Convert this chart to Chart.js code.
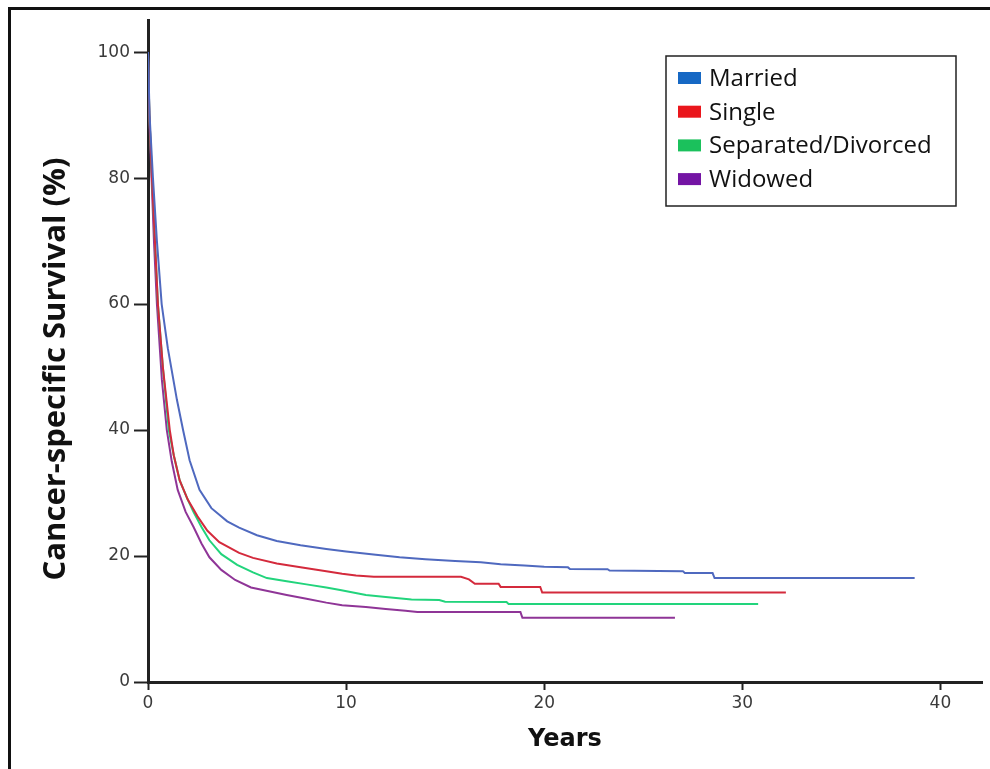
<!DOCTYPE html>
<html>
<head>
<meta charset="utf-8">
<script src="https://cdn.jsdelivr.net/npm/chart.js@4.4.1/dist/chart.umd.min.js"></script>
<style>
  body { margin: 0; background: #fff; overflow: hidden; }
  #frame {
    position: absolute; left: 8px; top: 7px; width: 1010px; height: 800px;
    border: 3px solid #111; pointer-events: none;
  }
  #survivalChart { position: absolute; left: 0; top: 0; }
</style>
</head>
<body>
<div id="frame"></div>
<canvas id="survivalChart" width="990" height="769"></canvas>
<script>
// DATA

const groups = ['Married', 'Single', 'Separated/Divorced', 'Widowed'];

const marriedYears    = [0, 0.08, 0.25, 0.45, 0.69, 1.0, 1.46, 1.77, 2.1, 2.6, 3.2, 4.0, 4.6, 5.5, 6.5, 7.7, 9.0, 10.0, 11.5, 12.7, 14.0, 15.5, 16.8, 17.8, 19.0, 20.0, 21.2, 21.3, 23.2, 23.3, 27.0, 27.1, 28.5, 28.6, 38.7];
const marriedSurvival = [100, 90, 80, 70, 60, 53, 44.8, 40, 35.2, 30.5, 27.6, 25.5, 24.5, 23.3, 22.4, 21.7, 21.1, 20.7, 20.2, 19.8, 19.5, 19.2, 19.0, 18.7, 18.5, 18.3, 18.2, 17.95, 17.9, 17.7, 17.6, 17.3, 17.3, 16.5, 16.5];

const singleYears    = [0, 0.07, 0.2, 0.35, 0.5, 0.75, 1.1, 1.3, 1.6, 2.0, 2.5, 3.0, 3.6, 4.6, 5.3, 6.5, 7.7, 9.0, 9.8, 10.5, 11.4, 15.8, 16.2, 16.5, 17.7, 17.8, 19.8, 19.9, 32.2];
const singleSurvival = [100, 90, 80, 70, 60, 50, 40, 36, 32, 29, 26.3, 24, 22.2, 20.5, 19.7, 18.8, 18.2, 17.6, 17.2, 16.9, 16.7, 16.7, 16.3, 15.6, 15.6, 15.1, 15.1, 14.2, 14.2];

const separatedYears    = [0, 0.07, 0.2, 0.35, 0.5, 0.75, 1.05, 1.3, 1.6, 2.0, 2.3, 2.7, 3.1, 3.7, 4.5, 5.3, 6.0, 7.0, 8.0, 9.0, 9.7, 11.0, 12.0, 13.3, 14.7, 15.0, 18.1, 18.2, 30.8];
const separatedSurvival = [100, 90, 80, 70, 60, 50, 40, 36, 32, 29, 27, 24.6, 22.5, 20.3, 18.6, 17.4, 16.5, 16.0, 15.5, 15.0, 14.6, 13.8, 13.5, 13.1, 13.0, 12.75, 12.7, 12.4, 12.4];

const widowedYears    = [0, 0.06, 0.18, 0.3, 0.45, 0.7, 0.95, 1.2, 1.5, 1.9, 2.3, 2.7, 3.1, 3.7, 4.4, 5.2, 5.8, 7.0, 8.0, 9.0, 9.8, 11.0, 12.0, 13.0, 13.6, 18.8, 18.9, 26.6];
const widowedSurvival = [100, 90, 80, 70, 60, 48, 40, 35, 30.5, 27, 24.6, 22, 19.8, 17.8, 16.2, 15.0, 14.6, 13.8, 13.2, 12.6, 12.2, 11.9, 11.6, 11.3, 11.1, 11.1, 10.2, 10.2];

const xTicks = [0, 10, 20, 30, 40];
const yTicks = [0, 20, 40, 60, 80, 100];

const yTitle = 'Cancer-specific Survival (%)';

// STYLE

const lineColors   = ['#4f69bf', '#d42a3c', '#22d47c', '#8f3597'];
const legendColors = ['#1668c4', '#ea161c', '#1bc15c', '#7414a4'];

const toPoints = (years, surv) => years.map((t, i) => ({ x: t, y: surv[i] }));

const series = [
  toPoints(marriedYears, marriedSurvival),
  toPoints(singleYears, singleSurvival),
  toPoints(separatedYears, separatedSurvival),
  toPoints(widowedYears, widowedSurvival)
];

// boxed legend in the top right corner + y title (sits a bit below centre in the original)
const boxLegend = {
  id: 'boxLegend',
  afterDraw(chart) {
    const ctx = chart.ctx;
    const right = chart.chartArea.right - 26;
    const left = right - 290;
    const top = 56;
    const rowH = 33.7;
    ctx.save();
    ctx.strokeStyle = '#222';
    ctx.lineWidth = 1.5;
    ctx.strokeRect(left, top, right - left, 150);
    ctx.font = '24px "Open Sans"';
    ctx.textBaseline = 'middle';
    chart.data.datasets.forEach((ds, i) => {
      const cy = top + 22 + i * rowH;
      ctx.fillStyle = ds.legendColor;
      ctx.fillRect(left + 12, cy - 6, 23, 12);
      ctx.fillStyle = '#111';
      ctx.fillText(ds.label, left + 43, cy + 1);
    });

    // y axis title
    ctx.translate(56, (chart.chartArea.top + chart.chartArea.bottom) / 2 + 18);
    ctx.rotate(-Math.PI / 2);
    ctx.font = 'bold 31px "Open Sans"';
    ctx.textAlign = 'center';
    ctx.fillStyle = '#111';
    ctx.fillText(yTitle, 0, 0);
    ctx.restore();
  }
};

const tickFont = { family: '"DejaVu Sans"', size: 17 };

new Chart(document.getElementById('survivalChart'), {
  type: 'line',
  data: {
    datasets: groups.map((g, i) => ({
      label: g,
      data: series[i],
      borderColor: lineColors[i],
      legendColor: legendColors[i],
      borderWidth: 2,
      pointRadius: 0,
      tension: 0,
      fill: false
    }))
  },
  options: {
    responsive: false,
    animation: false,
    layout: { padding: { top: 20, right: 8, left: 0, bottom: 0 } },
    plugins: {
      legend: { display: false },
      tooltip: { enabled: false }
    },
    scales: {
      x: {
        type: 'linear',
        min: 0,
        max: 42.1,
        afterFit: (scale) => { scale.height = 87; },
        afterBuildTicks: (scale) => { scale.ticks = xTicks.map(v => ({ value: v })); },
        ticks: { color: '#3a3a3a', font: tickFont, padding: 3 },
        grid: { drawOnChartArea: false, drawTicks: true, tickLength: 8, tickWidth: 2, tickColor: '#222' },
        border: { color: '#222', width: 3 },
        title: {
          display: true,
          text: 'Years',
          color: '#111',
          font: { family: '"DejaVu Sans"', size: 24, weight: 'bold' },
          padding: { top: 0, bottom: 15 }
        }
      },
      y: {
        min: 0,
        max: 105.1,
        afterFit: (scale) => { scale.width = 148; },
        afterBuildTicks: (scale) => { scale.ticks = yTicks.map(v => ({ value: v })); },
        ticks: { color: '#3a3a3a', font: tickFont, padding: 4 },
        grid: { drawOnChartArea: false, drawTicks: true, tickLength: 14, tickWidth: 2, tickColor: '#222' },
        border: { color: '#222', width: 3 }
      }
    }
  },
  plugins: [boxLegend]
});
</script>
</body>
</html>
